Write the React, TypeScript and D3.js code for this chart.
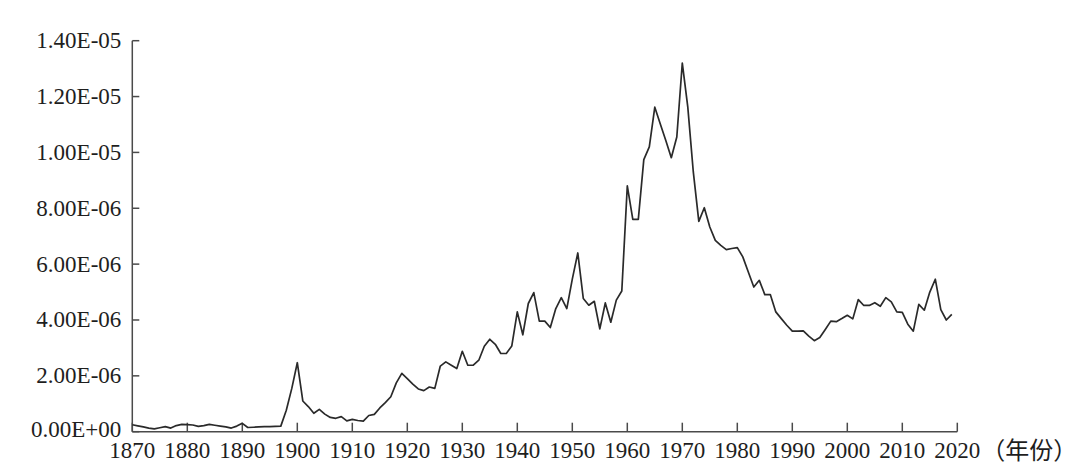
import React from "react";
import * as d3 from "d3";

const years: number[] = d3.range(1870, 2020);
// values in units of 1e-6
const valuesE6: number[] = [
  0.25, 0.21, 0.17, 0.13, 0.10, 0.14, 0.18, 0.13, 0.22, 0.26,
  0.25, 0.24, 0.19, 0.22, 0.26, 0.23, 0.20, 0.17, 0.13, 0.20,
  0.30, 0.15, 0.16, 0.17, 0.18, 0.18, 0.19, 0.20, 0.77, 1.55,
  2.47, 1.10, 0.90, 0.66, 0.80, 0.63, 0.51, 0.48, 0.54, 0.39,
  0.44, 0.40, 0.38, 0.58, 0.62, 0.85, 1.04, 1.25, 1.75, 2.09,
  1.90, 1.70, 1.53, 1.47, 1.60, 1.55, 2.35, 2.50, 2.38, 2.26,
  2.88, 2.38, 2.38, 2.56, 3.06, 3.31, 3.13, 2.80, 2.80, 3.07,
  4.29, 3.47, 4.59, 4.98, 3.96, 3.96, 3.73, 4.41, 4.80, 4.41,
  5.46, 6.40, 4.77, 4.53, 4.67, 3.68, 4.61, 3.92, 4.71, 5.04,
  8.80, 7.60, 7.60, 9.74, 10.20, 11.62, 11.02, 10.43, 9.81, 10.55,
  13.20, 11.62, 9.30, 7.53, 8.02, 7.33, 6.85, 6.67, 6.52, 6.56,
  6.59, 6.26, 5.72, 5.18, 5.42, 4.91, 4.91, 4.29, 4.05, 3.81,
  3.60, 3.60, 3.61, 3.42, 3.26, 3.37, 3.66, 3.96, 3.94, 4.05,
  4.17, 4.04, 4.73, 4.52, 4.52, 4.62, 4.49, 4.80, 4.65, 4.29,
  4.27, 3.85, 3.60, 4.56, 4.35, 5.00, 5.46, 4.37, 4.00, 4.20,
];
const yTicks: number[] = [0, 2e-6, 4e-6, 6e-6, 8e-6, 1e-5, 1.2e-5, 1.4e-5];
const xTicks: number[] = d3.range(1870, 2021, 10);
const xUnitLabel = "（年份）";

function fmt(v: number): string {
  const [m, e] = v.toExponential(2).split("e");
  const sign = e[0] === "-" ? "-" : "+";
  const digits = String(Math.abs(parseInt(e, 10))).padStart(2, "0");
  return `${m}E${sign}${digits}`;
}

export default function App() {
  const W = 1080;
  const H = 472;
  const x = d3.scaleLinear().domain([1870, 2020]).range([132.3, 957.3]);
  const y = d3.scaleLinear().domain([0, 1.4e-5]).range([431.7, 40.7]);
  const data = years.map((yr, i) => ({ yr, v: valuesE6[i] * 1e-6 }));
  const line = d3
    .line<{ yr: number; v: number }>()
    .x((d) => x(d.yr))
    .y((d) => y(d.v));
  const axisColor = "#4a4a4a";
  const textColor = "#1e1e1e";
  const font = "'Liberation Serif', 'Times New Roman', serif";
  const x0 = x(1870);
  const y0 = y(0);
  return (
    <svg
      width={W}
      height={H}
      style={{ position: "absolute", left: 0, top: 0, display: "block", background: "#fff" }}
    >
      {/* y axis */}
      <line x1={x0} x2={x0} y1={y(1.4e-5)} y2={y0} stroke={axisColor} strokeWidth={1.5} />
      {yTicks.map((t) => (
        <g key={t}>
          <line x1={x0} x2={x0 + 7} y1={y(t)} y2={y(t)} stroke={axisColor} strokeWidth={1.5} />
          <text
            x={x0 - 11}
            y={y(t) + 7.5 - (t === 0 ? 2 : 0)}
            textAnchor="end"
            fontFamily={font}
            fontSize={23}
            fill={textColor}
          >
            {fmt(t)}
          </text>
        </g>
      ))}
      {/* x axis */}
      <line x1={x0} x2={x(2020)} y1={y0} y2={y0} stroke={axisColor} strokeWidth={1.5} />
      {xTicks.map((t) => (
        <g key={t}>
          <line x1={x(t)} x2={x(t)} y1={y0} y2={y0 - 9} stroke={axisColor} strokeWidth={1.5} />
          <text
            x={x(t)}
            y={458}
            textAnchor="middle"
            fontFamily={font}
            fontSize={23}
            fill={textColor}
          >
            {t}
          </text>
        </g>
      ))}
      <text
        x={x(2020) + 24}
        y={459}
        fontFamily={"'Noto Sans CJK SC', 'Liberation Serif', serif"}
        fontSize={24}
        fill={textColor}
      >
        {xUnitLabel}
      </text>
      {/* data line */}
      <path d={line(data) ?? ""} fill="none" stroke="#2a2a2a" strokeWidth={1.7} strokeLinejoin="round" />
    </svg>
  );
}
